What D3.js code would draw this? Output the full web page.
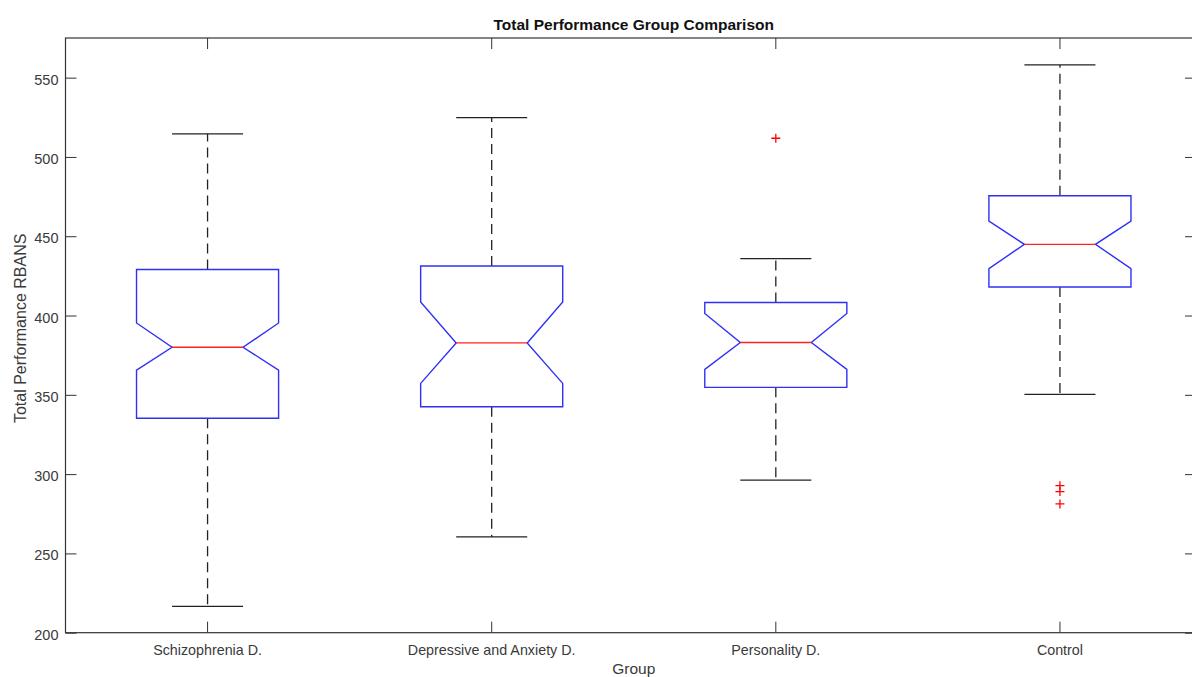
<!DOCTYPE html>
<html>
<head>
<meta charset="utf-8">
<script src="https://cdn.jsdelivr.net/npm/d3@7"></script>
<style>
  html, body { margin: 0; padding: 0; background: #fff; overflow: hidden; }
  svg { display: block; font-family: "Liberation Sans", Arial, Helvetica, sans-serif; }
</style>
</head>
<body>
<svg id="chart" width="1192" height="677"></svg>
<script>
// ---- data ----
const categories  = ["Schizophrenia D.", "Depressive and Anxiety D.", "Personality D.", "Control"];
const whiskerLow  = [216.6, 260.4, 296.2, 350.3];
const q1          = [335.2, 342.5, 354.7, 418.0];
const notchLow    = [365.6, 357.2, 366.0, 429.6];
const medians     = [380.0, 382.7, 383.0, 444.9];
const notchHigh   = [395.3, 408.6, 401.3, 459.5];
const q3          = [429.0, 431.2, 408.2, 475.5];
const whiskerHigh = [514.6, 524.8, 435.9, 558.0];
const outliers    = [[], [], [511.8], [292.7, 289.0, 281.2]];
const yTicks      = [200, 250, 300, 350, 400, 450, 500, 550];
const yDomain     = [200, 575];
const titleText   = "Total Performance Group Comparison";
const xLabelText  = "Group";
const yLabelText  = "Total Performance RBANS";

// ---- layout ----
const svg = d3.select("#chart");
const L = 65.5, R = 1202, T = 38, B = 632.7;
const axisColor = "#333333";
const textColor = "#3a3a3a";
const tickLen = 11;

const x = d3.scaleBand().domain(categories).range([L, R]).paddingInner(0).paddingOuter(0);
const y = d3.scaleLinear().domain(yDomain).range([B, T]);

const boxW = x.bandwidth() * 0.5;
const capW = x.bandwidth() * 0.25;
const notchW = boxW * 0.25; // inset of notch at median on each side

const data = categories.map((c, i) => ({
  c, lo: whiskerLow[i], q1: q1[i], nl: notchLow[i], med: medians[i],
  nh: notchHigh[i], q3: q3[i], hi: whiskerHigh[i], out: outliers[i]
}));

const g = svg.append("g");

data.forEach(d => {
  const cx = x(d.c) + x.bandwidth() / 2;
  // whiskers (dashed)
  g.append("line").attr("x1", cx).attr("x2", cx).attr("y1", y(d.q3)).attr("y2", y(d.hi))
    .attr("stroke", "#222").attr("stroke-width", 1.3).attr("stroke-dasharray", "10,6");
  g.append("line").attr("x1", cx).attr("x2", cx).attr("y1", y(d.q1)).attr("y2", y(d.lo))
    .attr("stroke", "#222").attr("stroke-width", 1.3).attr("stroke-dasharray", "10,6");
  // caps
  [d.hi, d.lo].forEach(v => {
    g.append("line").attr("x1", cx - capW / 2).attr("x2", cx + capW / 2)
      .attr("y1", y(v)).attr("y2", y(v))
      .attr("stroke", "#222").attr("stroke-width", 1.3);
  });
  // notched box
  const xl = cx - boxW / 2, xr = cx + boxW / 2;
  const pts = [
    [xl, y(d.q3)], [xr, y(d.q3)], [xr, y(d.nh)], [xr - notchW, y(d.med)], [xr, y(d.nl)],
    [xr, y(d.q1)], [xl, y(d.q1)], [xl, y(d.nl)], [xl + notchW, y(d.med)], [xl, y(d.nh)]
  ];
  g.append("path").attr("d", d3.line()(pts) + "Z")
    .attr("fill", "none").attr("stroke", "#3030f5").attr("stroke-width", 1.4);
  // median
  g.append("line").attr("x1", xl + notchW).attr("x2", xr - notchW)
    .attr("y1", y(d.med)).attr("y2", y(d.med))
    .attr("stroke", "#ff2020").attr("stroke-width", 1.3);
  // outliers
  d.out.forEach(v => {
    const oy = y(v), s = 4.5;
    g.append("path").attr("d", `M${cx - s},${oy}H${cx + s}M${cx},${oy - s}V${oy + s}`)
      .attr("stroke", "#ff0000").attr("stroke-width", 1.3).attr("fill", "none");
  });
});

// left axis with inward ticks
const yAxis = d3.axisLeft(y).tickValues(yTicks).tickSize(-tickLen).tickPadding(7).tickSizeOuter(0);
const yG = svg.append("g").attr("transform", `translate(${L},0)`).call(yAxis);
yG.select(".domain").remove();
yG.selectAll("line").attr("stroke", axisColor).attr("stroke-width", 1);
yG.selectAll("text").attr("fill", textColor).style("font-size", "14.5px")
  .style("font-family", "Liberation Sans, Arial, sans-serif").attr("dy", "0.45em");

// bottom axis
const xAxis = d3.axisBottom(x).tickSize(-tickLen).tickPadding(12).tickSizeOuter(0);
const xG = svg.append("g").attr("transform", `translate(0,${B})`).call(xAxis);
xG.select(".domain").remove();
xG.selectAll("line").attr("stroke", axisColor).attr("stroke-width", 1);
xG.selectAll("text").attr("fill", textColor).style("font-size", "14.3px")
  .style("font-family", "Liberation Sans, Arial, sans-serif");

// top ticks
const xTop = d3.axisTop(x).tickSize(-tickLen).tickFormat("").tickSizeOuter(0);
const xtG = svg.append("g").attr("transform", `translate(0,${T})`).call(xTop);
xtG.select(".domain").remove();
xtG.selectAll("line").attr("stroke", axisColor).attr("stroke-width", 1);

// right ticks
const yRight = d3.axisRight(y).tickValues(yTicks).tickSize(-17).tickFormat("").tickSizeOuter(0);
const yrG = svg.append("g").attr("transform", `translate(${R},0)`).call(yRight);
yrG.select(".domain").remove();
yrG.selectAll("line").attr("stroke", axisColor).attr("stroke-width", 1);

// frame
svg.append("rect").attr("x", L).attr("y", T).attr("width", R - L).attr("height", B - T)
  .attr("fill", "none").attr("stroke", axisColor).attr("stroke-width", 1.2);

// title & labels
svg.append("text").attr("x", (L + R) / 2).attr("y", 30).attr("text-anchor", "middle")
  .style("font-size", "15.5px").style("font-weight", "bold").attr("fill", "#111").text(titleText);
svg.append("text").attr("x", (L + R) / 2).attr("y", 674).attr("text-anchor", "middle")
  .style("font-size", "15.5px").attr("fill", textColor).text(xLabelText);
svg.append("text").attr("transform", `translate(26,${(T + B) / 2 - 7}) rotate(-90)`)
  .attr("text-anchor", "middle").style("font-size", "16px").attr("fill", textColor).text(yLabelText);
</script>
</body>
</html>
